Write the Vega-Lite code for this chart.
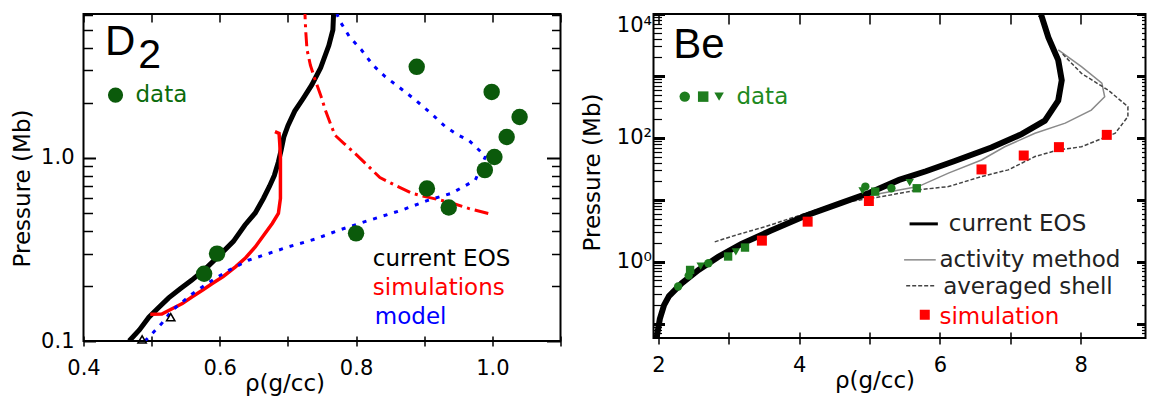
{
  "$schema": "https://vega.github.io/schema/vega-lite/v6.json",
  "padding": {"left": 10.5, "top": 11, "right": 0, "bottom": 0},
  "spacing": 17,
  "resolve": {"scale": {"color": "independent", "shape": "independent"}},
  "config": {
    "view": {"stroke": "#000", "strokeWidth": 2},
    "axis": {"grid": false, "domain": false, "labelFont": "DejaVu Sans", "labelFontSize": 21, "labelColor": "#000", "titleFont": "DejaVu Sans", "titleFontSize": 23, "titleFontWeight": "normal", "titleColor": "#000", "tickColor": "#000", "labelFlush": false, "labelOverlap": false, "labelBound": false},
    "text": {"font": "DejaVu Sans"}
  },
  "datasets": {
    "one": [{}],
    "d2_eos": [
      {"rho": 0.467, "p": 0.1}, {"rho": 0.482, "p": 0.115}, {"rho": 0.496, "p": 0.135}, {"rho": 0.51, "p": 0.152},
      {"rho": 0.525, "p": 0.172}, {"rho": 0.542, "p": 0.193}, {"rho": 0.559, "p": 0.215}, {"rho": 0.58, "p": 0.25},
      {"rho": 0.6, "p": 0.295}, {"rho": 0.62, "p": 0.35}, {"rho": 0.637, "p": 0.43}, {"rho": 0.652, "p": 0.5},
      {"rho": 0.664, "p": 0.6}, {"rho": 0.673, "p": 0.7}, {"rho": 0.68, "p": 0.8}, {"rho": 0.686, "p": 0.95},
      {"rho": 0.69, "p": 1.1}, {"rho": 0.694, "p": 1.3}, {"rho": 0.7, "p": 1.5}, {"rho": 0.71, "p": 1.8},
      {"rho": 0.722, "p": 2.1}, {"rho": 0.735, "p": 2.5}, {"rho": 0.748, "p": 3.1}, {"rho": 0.76, "p": 4.1},
      {"rho": 0.766, "p": 5.0}, {"rho": 0.767, "p": 6.1}
    ],
    "d2_sim": [
      {"rho": 0.498, "p": 0.14}, {"rho": 0.515, "p": 0.1405}, {"rho": 0.53, "p": 0.15}, {"rho": 0.545, "p": 0.16},
      {"rho": 0.559, "p": 0.174}, {"rho": 0.575, "p": 0.19}, {"rho": 0.589, "p": 0.206}, {"rho": 0.605, "p": 0.225},
      {"rho": 0.623, "p": 0.254}, {"rho": 0.638, "p": 0.285}, {"rho": 0.652, "p": 0.326}, {"rho": 0.665, "p": 0.38},
      {"rho": 0.677, "p": 0.438}, {"rho": 0.686, "p": 0.497}, {"rho": 0.689, "p": 0.6}, {"rho": 0.689, "p": 0.8},
      {"rho": 0.689, "p": 1.0}, {"rho": 0.688, "p": 1.2}, {"rho": 0.687, "p": 1.36}, {"rho": 0.681, "p": 1.39}
    ],
    "d2_simhp": [
      {"rho": 0.725, "p": 6.1}, {"rho": 0.726, "p": 5.0}, {"rho": 0.728, "p": 3.9}, {"rho": 0.733, "p": 3.2},
      {"rho": 0.74, "p": 2.66}, {"rho": 0.748, "p": 2.2}, {"rho": 0.755, "p": 1.82}, {"rho": 0.762, "p": 1.55},
      {"rho": 0.769, "p": 1.33}, {"rho": 0.782, "p": 1.2}, {"rho": 0.797, "p": 1.07}, {"rho": 0.818, "p": 0.9},
      {"rho": 0.835, "p": 0.78}, {"rho": 0.852, "p": 0.725}, {"rho": 0.882, "p": 0.64}, {"rho": 0.905, "p": 0.61},
      {"rho": 0.926, "p": 0.585}, {"rho": 0.945, "p": 0.56}, {"rho": 0.965, "p": 0.53}, {"rho": 0.994, "p": 0.497}
    ],
    "d2_model": [
      {"rho": 0.772, "p": 6.1}, {"rho": 0.776, "p": 5.6}, {"rho": 0.79, "p": 4.6}, {"rho": 0.808, "p": 3.88},
      {"rho": 0.825, "p": 3.2}, {"rho": 0.843, "p": 2.77}, {"rho": 0.865, "p": 2.4}, {"rho": 0.887, "p": 2.07},
      {"rho": 0.91, "p": 1.75}, {"rho": 0.931, "p": 1.48}, {"rho": 0.95, "p": 1.33}, {"rho": 0.965, "p": 1.25},
      {"rho": 0.99, "p": 1.02}, {"rho": 0.975, "p": 0.756}, {"rho": 0.94, "p": 0.64}, {"rho": 0.906, "p": 0.587},
      {"rho": 0.867, "p": 0.518}, {"rho": 0.82, "p": 0.457}, {"rho": 0.775, "p": 0.403}, {"rho": 0.74, "p": 0.36},
      {"rho": 0.7, "p": 0.326}, {"rho": 0.642, "p": 0.276}, {"rho": 0.613, "p": 0.243}, {"rho": 0.585, "p": 0.21},
      {"rho": 0.559, "p": 0.18}, {"rho": 0.53, "p": 0.147}, {"rho": 0.515, "p": 0.125}, {"rho": 0.496, "p": 0.105},
      {"rho": 0.49, "p": 0.1}
    ],
    "d2_data": [
      {"rho": 0.889, "p": 3.14}, {"rho": 0.999, "p": 2.29}, {"rho": 1.04, "p": 1.67}, {"rho": 1.021, "p": 1.3},
      {"rho": 1.003, "p": 1.01}, {"rho": 0.989, "p": 0.857}, {"rho": 0.904, "p": 0.68}, {"rho": 0.936, "p": 0.536},
      {"rho": 0.8, "p": 0.387}, {"rho": 0.596, "p": 0.3}, {"rho": 0.577, "p": 0.233}
    ],
    "d2_tri": [
      {"rho": 0.528, "p": 0.135}, {"rho": 0.486, "p": 0.102}
    ],
    "d2_leg": [
      {"label": "current EOS", "series": "eos", "rho": 0.8246, "p": 0.28},
      {"label": "simulations", "series": "sim", "rho": 0.8246, "p": 0.194},
      {"label": "model", "series": "model", "rho": 0.8275, "p": 0.135},
      {"label": "data", "series": "data", "rho": 0.4763, "p": 2.2}
    ],
    "be_eos": [
      {"rho": 1.975, "p": 0.059}, {"rho": 1.98, "p": 0.065}, {"rho": 2.02, "p": 0.12}, {"rho": 2.08, "p": 0.2},
      {"rho": 2.15, "p": 0.28}, {"rho": 2.33, "p": 0.45}, {"rho": 2.57, "p": 0.74}, {"rho": 2.85, "p": 1.2},
      {"rho": 3.18, "p": 1.95}, {"rho": 3.6, "p": 3.2}, {"rho": 4.08, "p": 5.5}, {"rho": 4.56, "p": 8.6},
      {"rho": 5.0, "p": 13}, {"rho": 5.42, "p": 21}, {"rho": 5.8, "p": 29}, {"rho": 6.2, "p": 42},
      {"rho": 6.73, "p": 70}, {"rho": 7.16, "p": 115}, {"rho": 7.49, "p": 190}, {"rho": 7.68, "p": 400},
      {"rho": 7.73, "p": 850}, {"rho": 7.68, "p": 1800}, {"rho": 7.54, "p": 4200}, {"rho": 7.44, "p": 9500},
      {"rho": 7.42, "p": 10000}
    ],
    "be_act": [
      {"rho": 2.3, "p": 0.42}, {"rho": 2.8, "p": 1.1}, {"rho": 3.5, "p": 2.9}, {"rho": 4.2, "p": 6.0},
      {"rho": 4.8, "p": 10.2}, {"rho": 5.17, "p": 12.8}, {"rho": 5.69, "p": 16.4}, {"rho": 6.12, "p": 27},
      {"rho": 6.59, "p": 44}, {"rho": 6.92, "p": 72}, {"rho": 7.35, "p": 119}, {"rho": 7.78, "p": 173},
      {"rho": 8.15, "p": 281}, {"rho": 8.34, "p": 460}, {"rho": 8.3, "p": 764}, {"rho": 8.01, "p": 1410},
      {"rho": 7.68, "p": 2630}
    ],
    "be_avg": [
      {"rho": 2.8, "p": 2.1}, {"rho": 3.1, "p": 2.7}, {"rho": 3.52, "p": 3.7}, {"rho": 4.0, "p": 5.6},
      {"rho": 4.5, "p": 8.6}, {"rho": 5.17, "p": 11.3}, {"rho": 5.69, "p": 14.5}, {"rho": 6.12, "p": 16.4},
      {"rho": 6.59, "p": 23.8}, {"rho": 6.97, "p": 30.5}, {"rho": 7.35, "p": 50}, {"rho": 7.68, "p": 64},
      {"rho": 8.01, "p": 72}, {"rho": 8.49, "p": 119}, {"rho": 8.67, "p": 221}, {"rho": 8.67, "p": 320},
      {"rho": 8.39, "p": 590}, {"rho": 8.01, "p": 1100}, {"rho": 7.73, "p": 2340}
    ],
    "be_sim": [
      {"rho": 3.47, "p": 2.2}, {"rho": 4.12, "p": 4.45}, {"rho": 4.99, "p": 9.6}, {"rho": 6.59, "p": 31},
      {"rho": 7.19, "p": 52}, {"rho": 7.69, "p": 71}, {"rho": 8.37, "p": 112}
    ],
    "be_data": [
      {"rho": 2.28, "p": 0.4, "kind": "circle"}, {"rho": 2.43, "p": 0.6, "kind": "circle"}, {"rho": 2.71, "p": 0.95, "kind": "circle"},
      {"rho": 4.94, "p": 16.4, "kind": "circle"}, {"rho": 5.31, "p": 15.4, "kind": "circle"},
      {"rho": 2.45, "p": 0.74, "kind": "square"}, {"rho": 2.99, "p": 1.22, "kind": "square"}, {"rho": 3.23, "p": 1.7, "kind": "square"},
      {"rho": 5.67, "p": 15.4, "kind": "square"}, {"rho": 5.08, "p": 13.6, "kind": "square"},
      {"rho": 2.6, "p": 0.85, "kind": "triangle"}, {"rho": 3.1, "p": 1.45, "kind": "triangle"}, {"rho": 5.57, "p": 19, "kind": "triangle"},
      {"rho": 4.9, "p": 14, "kind": "triangle"}
    ],
    "be_leg": [
      {"label": "data", "series": "data", "rho": 3.108, "p": 464},
      {"label": "current EOS", "series": "eos", "rho": 6.125, "p": 4.1},
      {"label": "activity method", "series": "act", "rho": 5.993, "p": 1.077},
      {"label": "averaged shell", "series": "avg", "rho": 6.045, "p": 0.39},
      {"label": "simulation", "series": "sim", "rho": 5.993, "p": 0.131}
    ]
  },
  "hconcat": [
    {
      "width": 477,
      "height": 327,
      "resolve": {"axis": {"x": "independent", "y": "independent"}},
      "layer": [
        {
          "data": {"name": "d2_eos"},
          "mark": {"type": "line", "color": "#000", "strokeWidth": 5, "clip": true},
          "encoding": {
            "x": {"field": "rho", "type": "quantitative", "scale": {"domain": [0.4, 1.1], "nice": false, "zero": false},
              "axis": {"orient": "bottom", "values": [0.4, 0.5, 0.6, 0.7, 0.8, 0.9, 1.0, 1.1], "labelExpr": "abs(datum.value*10 - 2*round(datum.value*5)) < 0.01 ? format(datum.value, '.1f') : ''", "tickSize": 5, "tickWidth": 1.5, "labelPadding": 11, "title": "ρ(g/cc)", "titleX": 201, "titlePadding": -6}},
            "y": {"field": "p", "type": "quantitative", "scale": {"type": "log", "domain": [0.1, 6.1], "nice": false},
              "axis": {"orient": "left", "values": [0.1, 1], "labelExpr": "datum.value < 0.5 ? '0.1' : '1.0'", "tickSize": -12, "tickWidth": 2, "labelPadding": 21.5, "title": "Pressure (Mb)", "titleY": 174, "titlePadding": 6}},
            "order": {"field": "p", "type": "quantitative"}
          }
        },
        {
          "data": {"name": "d2_sim"},
          "mark": {"type": "line", "color": "#ff0000", "strokeWidth": 3.5, "clip": true},
          "encoding": {
            "x": {"field": "rho", "type": "quantitative",
              "axis": {"orient": "bottom", "values": [0.4, 0.5, 0.6, 0.7, 0.8, 0.9, 1.0, 1.1], "labels": false, "tickSize": -5, "tickWidth": 1.5, "title": null}},
            "y": {"field": "p", "type": "quantitative",
              "axis": {"orient": "left", "values": [0.2, 0.3, 0.4, 0.5, 0.6, 0.7, 0.8, 0.9, 2, 3, 4, 5, 6], "labels": false, "tickSize": -9, "tickWidth": 1.5, "title": null}},
            "order": {"field": "p", "type": "quantitative"}
          }
        },
        {
          "data": {"name": "d2_simhp"},
          "mark": {"type": "line", "color": "#ff0000", "strokeWidth": 3, "strokeDash": [14, 5, 3, 5], "clip": true},
          "encoding": {
            "x": {"field": "rho", "type": "quantitative",
              "axis": {"orient": "top", "values": [0.4, 0.5, 0.6, 0.7, 0.8, 0.9, 1.0, 1.1], "labels": false, "tickSize": -8, "tickWidth": 1.5, "title": null}},
            "y": {"field": "p", "type": "quantitative",
              "axis": {"orient": "right", "values": [0.1, 1], "labels": false, "tickSize": -14, "tickWidth": 2, "title": null}},
            "order": {"field": "p", "type": "quantitative"}
          }
        },
        {
          "data": {"name": "d2_model"},
          "mark": {"type": "line", "color": "#0000ff", "strokeWidth": 3, "strokeDash": [4, 7], "clip": true},
          "encoding": {
            "x": {"field": "rho", "type": "quantitative", "axis": null},
            "y": {"field": "p", "type": "quantitative",
              "axis": {"orient": "right", "values": [0.2, 0.3, 0.4, 0.5, 0.6, 0.7, 0.8, 0.9, 2, 3, 4, 5, 6], "labels": false, "tickSize": -9, "tickWidth": 1.5, "title": null}},
            "order": {"field": "p", "type": "quantitative"}
          }
        },
        {
          "data": {"name": "d2_data"},
          "mark": {"type": "point", "shape": "circle", "filled": true, "color": "#0b5a0b", "opacity": 1, "size": 270},
          "encoding": {
            "x": {"field": "rho", "type": "quantitative", "axis": null},
            "y": {"field": "p", "type": "quantitative", "axis": null}
          }
        },
        {
          "data": {"name": "d2_tri"},
          "mark": {"type": "point", "shape": "triangle-up", "filled": false, "color": "#000", "strokeWidth": 1.5, "opacity": 1, "size": 70},
          "encoding": {
            "x": {"field": "rho", "type": "quantitative", "axis": null},
            "y": {"field": "p", "type": "quantitative", "axis": null}
          }
        },
        {
          "data": {"name": "d2_leg"},
          "mark": {"type": "text", "align": "left", "baseline": "middle", "fontSize": 23},
          "encoding": {
            "x": {"field": "rho", "type": "quantitative", "axis": null},
            "y": {"field": "p", "type": "quantitative", "axis": null},
            "text": {"field": "label"},
            "color": {"field": "series", "type": "nominal", "legend": null,
              "scale": {"domain": ["eos", "sim", "model", "data"], "range": ["#000000", "#ff0000", "#0000ff", "#0b6b0b"]}}
          }
        },
        {
          "data": {"name": "one"},
          "mark": {"type": "point", "shape": "circle", "filled": true, "color": "#0b5a0b", "opacity": 1, "size": 230},
          "encoding": {
            "x": {"datum": 0.447, "type": "quantitative", "axis": null},
            "y": {"datum": 2.2, "type": "quantitative", "axis": null}
          }
        },
        {
          "data": {"name": "one"},
          "mark": {"type": "text", "text": "D", "font": "Liberation Sans", "fontSize": 42, "align": "left", "baseline": "alphabetic", "color": "#000"},
          "encoding": {
            "x": {"datum": 0.4315, "type": "quantitative", "axis": null},
            "y": {"datum": 3.64, "type": "quantitative", "axis": null}
          }
        },
        {
          "data": {"name": "one"},
          "mark": {"type": "text", "text": "2", "font": "Liberation Sans", "fontSize": 41, "align": "left", "baseline": "alphabetic", "color": "#000"},
          "encoding": {
            "x": {"datum": 0.4805, "type": "quantitative", "axis": null},
            "y": {"datum": 3.08, "type": "quantitative", "axis": null}
          }
        }
      ]
    },
    {
      "width": 492,
      "height": 324,
      "resolve": {"axis": {"x": "independent", "y": "independent"}},
      "layer": [
        {
          "data": {"name": "be_act"},
          "mark": {"type": "line", "color": "#8a8a8a", "strokeWidth": 1.5, "clip": true},
          "encoding": {
            "x": {"field": "rho", "type": "quantitative", "scale": {"domain": [1.93, 8.92], "nice": false, "zero": false},
              "axis": {"orient": "bottom", "values": [2, 3, 4, 5, 6, 7, 8], "labels": false, "tickSize": -6, "tickWidth": 1.5, "title": null}},
            "y": {"field": "p", "type": "quantitative", "scale": {"type": "log", "domain": [0.059, 10000], "nice": false},
              "axis": {"orient": "left", "values": [0.07, 0.08, 0.09, 0.2, 0.3, 0.4, 0.5, 0.6, 0.7, 0.8, 0.9, 2, 3, 4, 5, 6, 7, 8, 9, 20, 30, 40, 50, 60, 70, 80, 90, 200, 300, 400, 500, 600, 700, 800, 900, 2000, 3000, 4000, 5000, 6000, 7000, 8000, 9000], "labels": false, "tickSize": -8, "tickWidth": 1.2, "title": null}},
            "order": {"field": "p", "type": "quantitative"}
          }
        },
        {
          "data": {"name": "be_avg"},
          "mark": {"type": "line", "color": "#444444", "strokeWidth": 1.5, "strokeDash": [4, 2], "clip": true},
          "encoding": {
            "x": {"field": "rho", "type": "quantitative",
              "axis": {"orient": "top", "values": [2, 3, 4, 5, 6, 7, 8], "labels": false, "tickSize": -10, "tickWidth": 1.5, "title": null}},
            "y": {"field": "p", "type": "quantitative",
              "axis": {"orient": "right", "values": [0.1, 1, 10, 100, 1000, 10000], "labels": false, "tickSize": -9, "tickWidth": 3, "title": null}},
            "order": {"field": "p", "type": "quantitative"}
          }
        },
        {
          "data": {"name": "be_eos"},
          "mark": {"type": "line", "color": "#000", "strokeWidth": 6, "clip": true},
          "encoding": {
            "x": {"field": "rho", "type": "quantitative",
              "axis": {"orient": "bottom", "values": [2, 3, 4, 5, 6, 7, 8], "labelExpr": "datum.value % 2 == 0 ? format(datum.value, 'd') : ''", "tickSize": 6, "tickWidth": 1.5, "labelPadding": 10, "title": "ρ(g/cc)", "titleX": 221, "titlePadding": -6}},
            "y": {"field": "p", "type": "quantitative",
              "axis": {"orient": "left", "values": [0.1, 1, 10, 100, 1000, 10000], "labelExpr": "datum.value == 1 ? '10⁰' : datum.value == 100 ? '10²' : datum.value == 10000 ? '10⁴' : ''", "labelFlush": 1, "tickSize": -11, "tickWidth": 3, "labelPadding": 13, "title": "Pressure (Mb)", "titleY": 158, "titlePadding": 12}},
            "order": {"field": "p", "type": "quantitative"}
          }
        },
        {
          "data": {"name": "be_sim"},
          "mark": {"type": "point", "shape": "square", "filled": true, "color": "#ff0000", "opacity": 1, "size": 100},
          "encoding": {
            "x": {"field": "rho", "type": "quantitative", "axis": null},
            "y": {"field": "p", "type": "quantitative",
              "axis": {"orient": "right", "values": [0.07, 0.08, 0.09, 0.2, 0.3, 0.4, 0.5, 0.6, 0.7, 0.8, 0.9, 2, 3, 4, 5, 6, 7, 8, 9, 20, 30, 40, 50, 60, 70, 80, 90, 200, 300, 400, 500, 600, 700, 800, 900, 2000, 3000, 4000, 5000, 6000, 7000, 8000, 9000], "labels": false, "tickSize": -4, "tickWidth": 1.2, "title": null}}
          }
        },
        {
          "data": {"name": "be_data"},
          "mark": {"type": "point", "filled": true, "color": "#1e7d1e", "opacity": 1, "size": 70},
          "encoding": {
            "x": {"field": "rho", "type": "quantitative", "axis": null},
            "y": {"field": "p", "type": "quantitative", "axis": null},
            "shape": {"field": "kind", "type": "nominal", "legend": null,
              "scale": {"domain": ["circle", "square", "triangle"], "range": ["circle", "square", "triangle-down"]}}
          }
        },
        {
          "data": {"name": "be_leg"},
          "mark": {"type": "text", "align": "left", "baseline": "middle", "fontSize": 23},
          "encoding": {
            "x": {"field": "rho", "type": "quantitative", "axis": null},
            "y": {"field": "p", "type": "quantitative", "axis": null},
            "text": {"field": "label"},
            "color": {"field": "series", "type": "nominal", "legend": null,
              "scale": {"domain": ["data", "eos", "act", "avg", "sim"], "range": ["#1e8a1e", "#222222", "#222222", "#222222", "#ff0000"]}}
          }
        },
        {
          "data": {"name": "one"},
          "mark": {"type": "point", "shape": "circle", "filled": true, "color": "#1e7d1e", "opacity": 1, "size": 110},
          "encoding": {
            "x": {"datum": 2.374, "type": "quantitative", "axis": null},
            "y": {"datum": 464, "type": "quantitative", "axis": null}
          }
        },
        {
          "data": {"name": "one"},
          "mark": {"type": "point", "shape": "square", "filled": true, "color": "#1e7d1e", "opacity": 1, "size": 110},
          "encoding": {
            "x": {"datum": 2.636, "type": "quantitative", "axis": null},
            "y": {"datum": 464, "type": "quantitative", "axis": null}
          }
        },
        {
          "data": {"name": "one"},
          "mark": {"type": "point", "shape": "triangle-down", "filled": true, "color": "#1e7d1e", "opacity": 1, "size": 90},
          "encoding": {
            "x": {"datum": 2.862, "type": "quantitative", "axis": null},
            "y": {"datum": 464, "type": "quantitative", "axis": null}
          }
        },
        {
          "data": {"name": "one"},
          "mark": {"type": "rule", "color": "#000", "strokeWidth": 3},
          "encoding": {
            "x": {"datum": 5.568, "type": "quantitative", "axis": null},
            "x2": {"datum": 5.97},
            "y": {"datum": 4.1, "type": "quantitative", "axis": null}
          }
        },
        {
          "data": {"name": "one"},
          "mark": {"type": "rule", "color": "#8a8a8a", "strokeWidth": 1.5},
          "encoding": {
            "x": {"datum": 5.49, "type": "quantitative", "axis": null},
            "x2": {"datum": 5.94},
            "y": {"datum": 1.077, "type": "quantitative", "axis": null}
          }
        },
        {
          "data": {"name": "one"},
          "mark": {"type": "rule", "color": "#444444", "strokeWidth": 1.5, "strokeDash": [4, 2]},
          "encoding": {
            "x": {"datum": 5.52, "type": "quantitative", "axis": null},
            "x2": {"datum": 5.94},
            "y": {"datum": 0.41, "type": "quantitative", "axis": null}
          }
        },
        {
          "data": {"name": "one"},
          "mark": {"type": "point", "shape": "square", "filled": true, "color": "#ff0000", "opacity": 1, "size": 100},
          "encoding": {
            "x": {"datum": 5.784, "type": "quantitative", "axis": null},
            "y": {"datum": 0.14, "type": "quantitative", "axis": null}
          }
        },
        {
          "data": {"name": "one"},
          "mark": {"type": "text", "text": "Be", "font": "Liberation Sans", "fontSize": 42, "align": "left", "baseline": "alphabetic", "color": "#000"},
          "encoding": {
            "x": {"datum": 2.21, "type": "quantitative", "axis": null},
            "y": {"datum": 1930, "type": "quantitative", "axis": null}
          }
        }
      ]
    }
  ]
}
